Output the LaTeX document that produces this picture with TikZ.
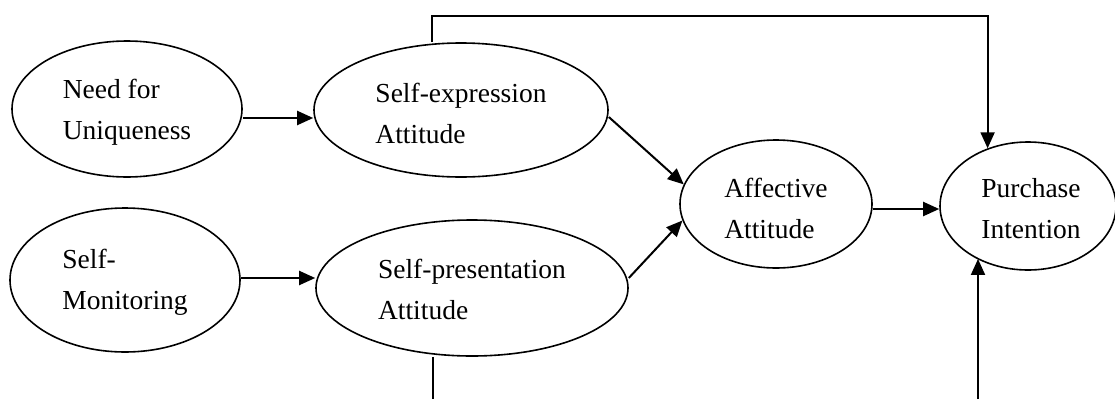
\documentclass[tikz,border=0pt]{standalone}
\usepackage{fontspec}
\setmainfont{Liberation Serif}
\usetikzlibrary{shapes.geometric,arrows.meta,calc}
\begin{document}
\begin{tikzpicture}[x=1pt,y=-1pt,
  oval/.style={draw,ellipse,line width=1.6pt,inner sep=0pt},
  txt/.style={inner sep=0pt,align=left,font=\fontsize{27.5pt}{41pt}\selectfont},
  arr/.style={line width=2pt,-{Triangle[length=16pt,width=14pt]}},
  ln/.style={line width=1.8pt}]
\useasboundingbox (0,0) rectangle (1115,399);
\node[oval,minimum width=230pt,minimum height=136pt] (nu) at (127,109) {};
\node[oval,minimum width=294pt,minimum height=134pt] (se) at (461,110) {};
\node[oval,minimum width=230pt,minimum height=144pt] (sm) at (125,280) {};
\node[oval,minimum width=312pt,minimum height=136pt] (sp) at (472,288) {};
\node[oval,minimum width=192pt,minimum height=128pt] (af) at (776,204) {};
\node[oval,minimum width=176pt,minimum height=128pt] (pi) at (1028,206) {};
\node[txt] (nut) at ([yshift=-3pt]nu.center) {Need for\\Uniqueness};
\node[txt] (set) at ([yshift=-3pt]se.center) {Self-expression\\Attitude};
\node[txt] (smt) at ([yshift=-2pt]sm.center) {Self-\\Monitoring};
\node[txt] (spt) at ([yshift=-1pt]sp.center) {Self-presentation\\Attitude};
\node[txt] (aft) at ([yshift=-4pt]af.center) {Affective\\Attitude};
\node[txt] (pit) at ([yshift=-3pt,xshift=3pt]pi.center) {Purchase\\Intention};
\coordinate (a0) at ([yshift=-9pt]nu.east);
\coordinate (a1) at ([yshift=2pt]sm.east);
\coordinate (a2) at ([yshift=-5pt]af.east);
\coordinate (t1) at (432,16);
\coordinate (b1) at (433,399);
\coordinate (b2) at (978,399);
\draw[arr] (a0) -- (a0 -| se.west);
\draw[arr] (a1) -- (a1 -| sp.west);
\draw[arr] ([yshift=-7pt]se.east) -- (af.168);
\draw[arr] ([yshift=10pt]sp.east) -- (af.190);
\draw[arr] (a2) -- (a2 -| pi.west);
\draw[arr] (se.north -| t1) -- (t1) -| (pi.125);
\draw[ln] (sp.south -| b1) -- (b1);
\draw[arr] (b2) -- (b2 |- pi.226);
\end{tikzpicture}
\end{document}
